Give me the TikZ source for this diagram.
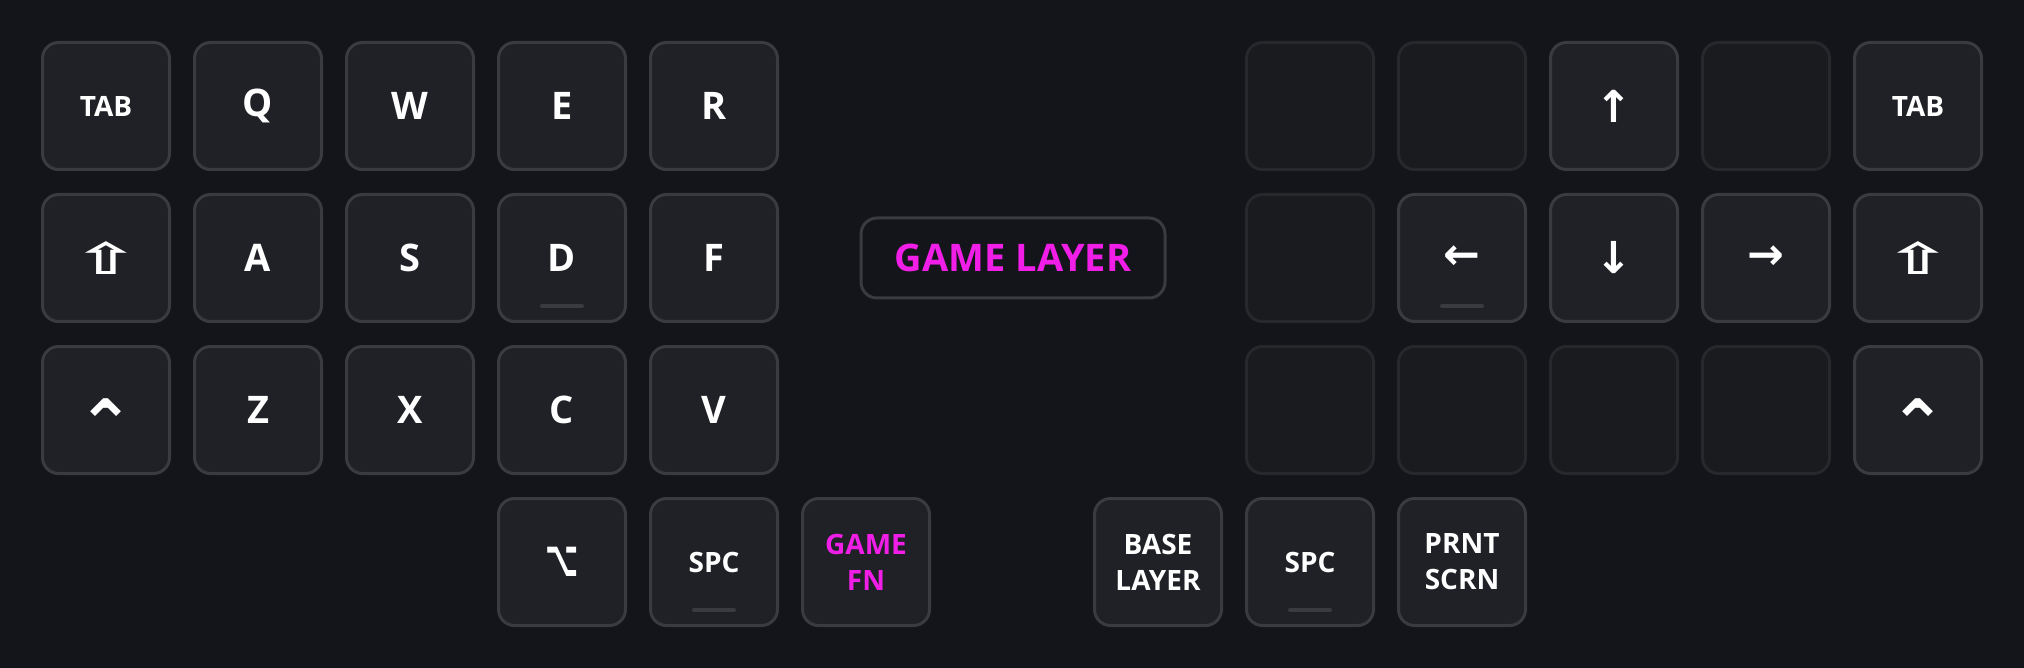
\documentclass[tikz,border=0pt]{standalone}
\usepackage{fontspec}
\setmainfont{Open Sans}
\newfontfamily\symfont{DejaVu Sans}
\usetikzlibrary{positioning}

\definecolor{bgdark}{HTML}{13151A}
\definecolor{keyfill}{HTML}{1F2126}
\definecolor{keyline}{HTML}{393B40}
\definecolor{offfill}{HTML}{191B1F}
\definecolor{offline}{HTML}{26282C}
\definecolor{layermag}{HTML}{F01EE6}

% symbol glyphs, squeezed to the shape of the keycap legends
\newcommand{\shiftsym}{\scalebox{1.4}[0.78]{⇧}}
\newcommand{\ctrlsym}{\raisebox{-7pt}[\height][\depth]{⌃}}
\newcommand{\optsym}{\scalebox{0.85}[1.5]{⌥}}

\begin{document}
\begin{tikzpicture}[
    % one key is 65pt, gap between keys 11pt
    node distance=11pt and 11pt,
    key/.style={
        rectangle, rounded corners=8pt, draw=keyline, fill=keyfill,
        line width=1.5pt, inner sep=0pt, text centered, align=center,
        minimum width=63.5pt, minimum height=63.5pt,
        text=white, font=\bfseries\fontsize{19}{22}\selectfont
    },
    smallkey/.style={key, font=\bfseries\fontsize{14}{18}\selectfont},
    symkey/.style={key, font=\symfont\bfseries\fontsize{#1}{#1}\selectfont},
    symkey/.default=22,
    offkey/.style={key, draw=offline, fill=offfill},
    layerkey/.style={smallkey, text=layermag},
    layerbox/.style={key, fill=bgdark, text=layermag,
        minimum width=152pt, minimum height=40pt},
    homebar/.style={line width=2pt, draw=keyline, line cap=round}
]
  % Background and page size
  \fill[bgdark] (0,0) rectangle (1012pt,-334pt);
  \useasboundingbox (0,0) rectangle (1012pt,-334pt);

  % Left half: top row
  \node[smallkey] (ltab) at (53pt,-53pt) {TAB};
  \node[key, right=of ltab] (q) {Q};
  \node[key, right=of q] (w) {W};
  \node[key, right=of w] (e) {E};
  \node[key, right=of e] (r) {R};

  % Left half: home row
  \node[symkey=28, below=of ltab] (lshift) {\shiftsym};
  \node[key, right=of lshift] (a) {A};
  \node[key, right=of a] (s) {S};
  \node[key, right=of s] (d) {D};
  \node[key, right=of d] (f) {F};

  % Left half: bottom row
  \node[symkey=34, below=of lshift] (lctrl) {\ctrlsym};
  \node[key, right=of lctrl] (z) {Z};
  \node[key, right=of z] (x) {X};
  \node[key, right=of x] (c) {C};
  \node[key, right=of c] (v) {V};

  % Left thumbs
  \node[symkey=17, below=of c] (lopt) {\optsym};
  \node[smallkey, right=of lopt] (lspc) {SPC};
  \node[layerkey, right=of lspc] (gamefn) {GAME\\FN};

  % Layer name
  \node[layerbox] (gamelayer) at (506.5pt,-129pt) {GAME LAYER};

  % Right half: top row
  \node[offkey] (rnone1) at (655pt,-53pt) {};
  \node[offkey, right=of rnone1] (rnone2) {};
  \node[symkey, right=of rnone2] (up) {↑};
  \node[offkey, right=of up] (rnone3) {};
  \node[smallkey, right=of rnone3] (rtab) {TAB};

  % Right half: home row
  \node[offkey, below=of rnone1] (rnone4) {};
  \node[symkey, right=of rnone4] (left) {←};
  \node[symkey, right=of left] (down) {↓};
  \node[symkey, right=of down] (right) {→};
  \node[symkey=28, right=of right] (rshift) {\shiftsym};

  % Right half: bottom row
  \node[offkey, below=of rnone4] (rnone5) {};
  \node[offkey, right=of rnone5] (rnone6) {};
  \node[offkey, right=of rnone6] (rnone7) {};
  \node[offkey, right=of rnone7] (rnone8) {};
  \node[symkey=34, right=of rnone8] (rctrl) {\ctrlsym};

  % Right thumbs
  \node[smallkey, below=of rnone5] (rspc) {SPC};
  \node[smallkey, left=of rspc] (base) {BASE\\LAYER};
  \node[smallkey, right=of rspc] (prnt) {PRNT\\SCRN};

  % Homing bars
  \foreach \k in {d, left, lspc, rspc}
    \draw[homebar] ([xshift=-10pt, yshift=8.5pt]\k.south) -- ([xshift=10pt, yshift=8.5pt]\k.south);

\end{tikzpicture}
\end{document}
